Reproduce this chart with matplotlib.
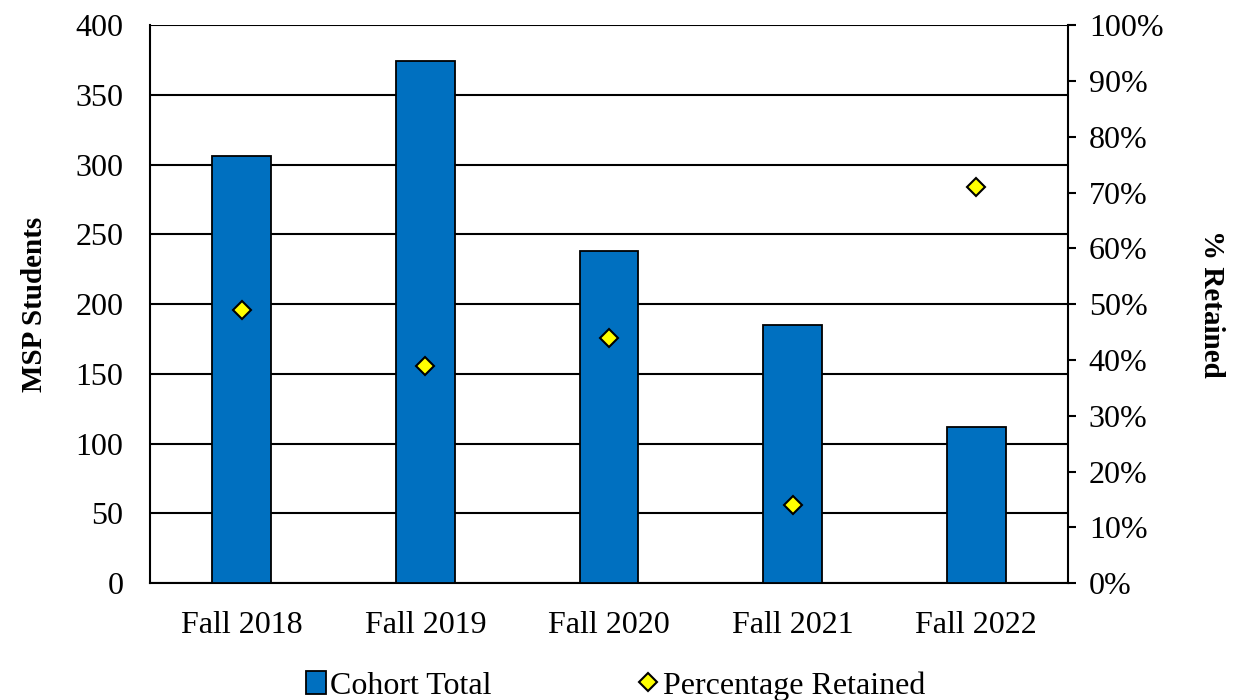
import numpy as np
import matplotlib.pyplot as plt
from matplotlib.ticker import PercentFormatter

# Cohort data
terms = ["Fall 2018", "Fall 2019", "Fall 2020", "Fall 2021", "Fall 2022"]
cohort_total = [306, 374, 238, 185, 112]
pct_retained = [49, 39, 44, 14, 71]

plt.rcParams['font.family'] = ['Liberation Serif', 'DejaVu Serif']

fig, ax = plt.subplots(figsize=(12.39, 7), dpi=100)
fig.subplots_adjust(left=0.121, right=0.862, top=0.964, bottom=0.167)

x = np.arange(len(terms))
bars = ax.bar(x, cohort_total, width=0.32, color="#0070C0", edgecolor="black",
              linewidth=1.3, label="Cohort Total", zorder=3)

ax.set_ylim(0, 400)
ax.set_yticks(np.arange(0, 401, 50))
ax.set_xlim(-0.5, len(terms) - 0.5)
ax.set_xticks(x)
ax.set_xticklabels(terms)
ax.grid(axis="y", color="black", linewidth=1.5, zorder=0)
ax.tick_params(axis="y", length=0, labelsize=23, pad=19)
ax.tick_params(axis="x", length=0, labelsize=23, pad=20)
ax.set_ylabel("MSP Students", fontsize=21, fontweight="bold", labelpad=20)
for side in ["top", "right"]:
    ax.spines[side].set_visible(False)
for side in ["left", "bottom"]:
    ax.spines[side].set_linewidth(1.5)

# Retention on the secondary axis
ax2 = ax.twinx()
pts, = ax2.plot(x, pct_retained, linestyle="none", marker="D", markersize=9,
                markerfacecolor="#FFFF00", markeredgecolor="black",
                markeredgewidth=1.5, label="Percentage Retained", zorder=4)
ax2.set_ylim(0, 100)
ax2.set_yticks(np.arange(0, 101, 10))
ax2.yaxis.set_major_formatter(PercentFormatter(decimals=0))
ax2.tick_params(axis="y", direction="out", length=6, width=1.5, labelsize=23, pad=9)
ax2.set_ylabel("% Retained", fontsize=21, fontweight="bold", rotation=-90, labelpad=44)
for side in ["top", "left", "bottom"]:
    ax2.spines[side].set_visible(False)
ax2.spines["right"].set_linewidth(1.5)

fig.legend([bars, pts], ["Cohort Total", "Percentage Retained"], loc="lower center",
           bbox_to_anchor=(0.497, -0.042), ncol=2, frameon=False, fontsize=23,
           handlelength=0.6, handletextpad=0.15, columnspacing=4.6)

fig.savefig("out.png", dpi=100)
